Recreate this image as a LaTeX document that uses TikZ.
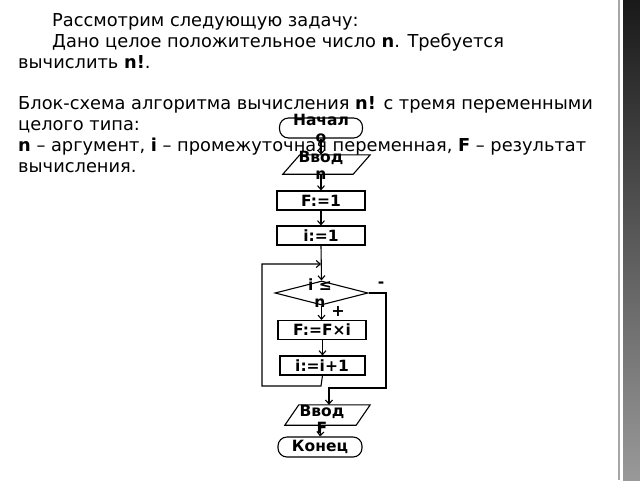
\documentclass[tikz,border=0pt]{standalone}
\usepackage{fontspec}
\setmainfont{DejaVu Sans}
\usetikzlibrary{arrows.meta,shapes.geometric}
\begin{document}
\begin{tikzpicture}[x=1pt,y=-1pt,
  para/.style={anchor=base west,inner sep=0pt,font=\fontsize{17.8}{21}\selectfont},
  fbox/.style={draw,line width=1.1pt,minimum width=88pt,minimum height=19pt,inner sep=0pt},
  term/.style={draw,line width=1.1pt,rounded corners=9pt,minimum width=83pt,minimum height=20pt,inner sep=0pt},
  ghost/.style={draw=none,minimum height=19pt,inner sep=0pt},
  lbl/.style={font=\fontsize{15.5}{17}\selectfont\bfseries,align=center,inner sep=0pt},
  conn/.style={line width=1.1pt},
  arr/.style={conn,-{Straight Barb[length=4pt,width=7pt,line width=1.1pt]}}
]
\useasboundingbox (0,0) rectangle (640,480);
\fill[white] (0,0) rectangle (640,480);
% right border
\shade[top color=black!90,bottom color=black!40] (623,0) rectangle (640,480);
\draw[gray!70,line width=1.5pt] (619,0) -- (619,480);

% paragraph text
\node[para] (p1) at (52,26) {Рассмотрим следующую задачу:};
\node[para] (p2) at (52,47) {Дано целое положительное число \textbf{n}. Требуется};
\node[para] (p3) at (18,68) {вычислить \textbf{n!}.};
\node[para] (p4) at (18,109) {Блок-схема алгоритма вычисления \textbf{n!} с тремя переменными};
\node[para] (p5) at (18,130) {целого типа:};
\node[para] (p6) at (18,151) {\textbf{n} – аргумент, \textbf{i} – промежуточная переменная, \textbf{F} – результат};
\node[para] (p7) at (18,172) {вычисления.};

% flowchart shapes
\node[term] (start) at (321,128) {};
\node[ghost,minimum width=87pt] (in1) at (326.5,164.5) {};
\draw[line width=1.1pt] (in1.south west) -- ([xshift=-17pt]in1.south east) -- (in1.north east) -- ([xshift=17pt]in1.north west) -- cycle;
\node[fbox] (f1) at (321,200.5) {};
\node[fbox] (i1) at (321,235.5) {};
\node[diamond,draw,line width=1.1pt,minimum width=93pt,minimum height=24pt,inner sep=0pt,aspect=3.9] (cond) at (321.5,293) {};
\node[fbox] (body) at (322,330) {};
\node[fbox,minimum width=85pt] (inc) at (322.5,365.5) {};
\node[ghost,minimum width=85pt,minimum height=20pt] (out) at (327.5,415) {};
\draw[line width=1.1pt] (out.south west) -- ([xshift=-14pt]out.south east) -- (out.north east) -- ([xshift=14pt]out.north west) -- cycle;
\node[term,minimum width=84pt] (stop) at (320,447) {};

% labels
\node[lbl] (t1) at (321,128) {Начал\\о};
\node[lbl] (t2) at (321,165) {Ввод\\n};
\node[lbl] (t3) at (321,200.5) {F:=1};
\node[lbl] (t4) at (321,235.5) {i:=1};
\node[lbl] (t5) at (320,293) {i ≤\\n};
\node[lbl] (t6) at (322,330) {F:=F×i};
\node[lbl] (t7) at (322,365.5) {i:=i+1};
\node[lbl] (t8) at (322,419) {Ввод\\F};
\node[lbl] (t9) at (320,447) {Конец};
\node[lbl] (minus) at (381,285) {-};
\node[lbl,font=\fontsize{16}{17}\selectfont\bfseries] (plus) at (338,311) {+};

% connectors
\coordinate (lb) at (321,386);
\coordinate (ll) at (262,386);
\coordinate (lt) at (262,264);
\coordinate (lm) at (321,264);
\coordinate (er) at (386,293);
\coordinate (eb) at (386,388);
\coordinate (ex) at (329,388);
\draw[arr] (start.south) -- (start.south |- in1.north);
\draw[arr] (321,174) -- (f1.north);
\draw[arr] (f1.south) -- (i1.north);
\draw[arr] (i1.south) -- (cond.north);
\draw[arr] (cond.south) -- (cond.south |- body.north);
\draw[arr] (body.south -| inc.north) -- (inc.north);
\draw[arr] (inc.south) -- (lb) -- (ll) -- (lt) -- (lm);
\draw[arr] (cond.east) -- (er) -- (eb) -- (ex) -- (ex |- out.north);
\draw[arr] (321,425) -- (stop.north);
\end{tikzpicture}
\end{document}
